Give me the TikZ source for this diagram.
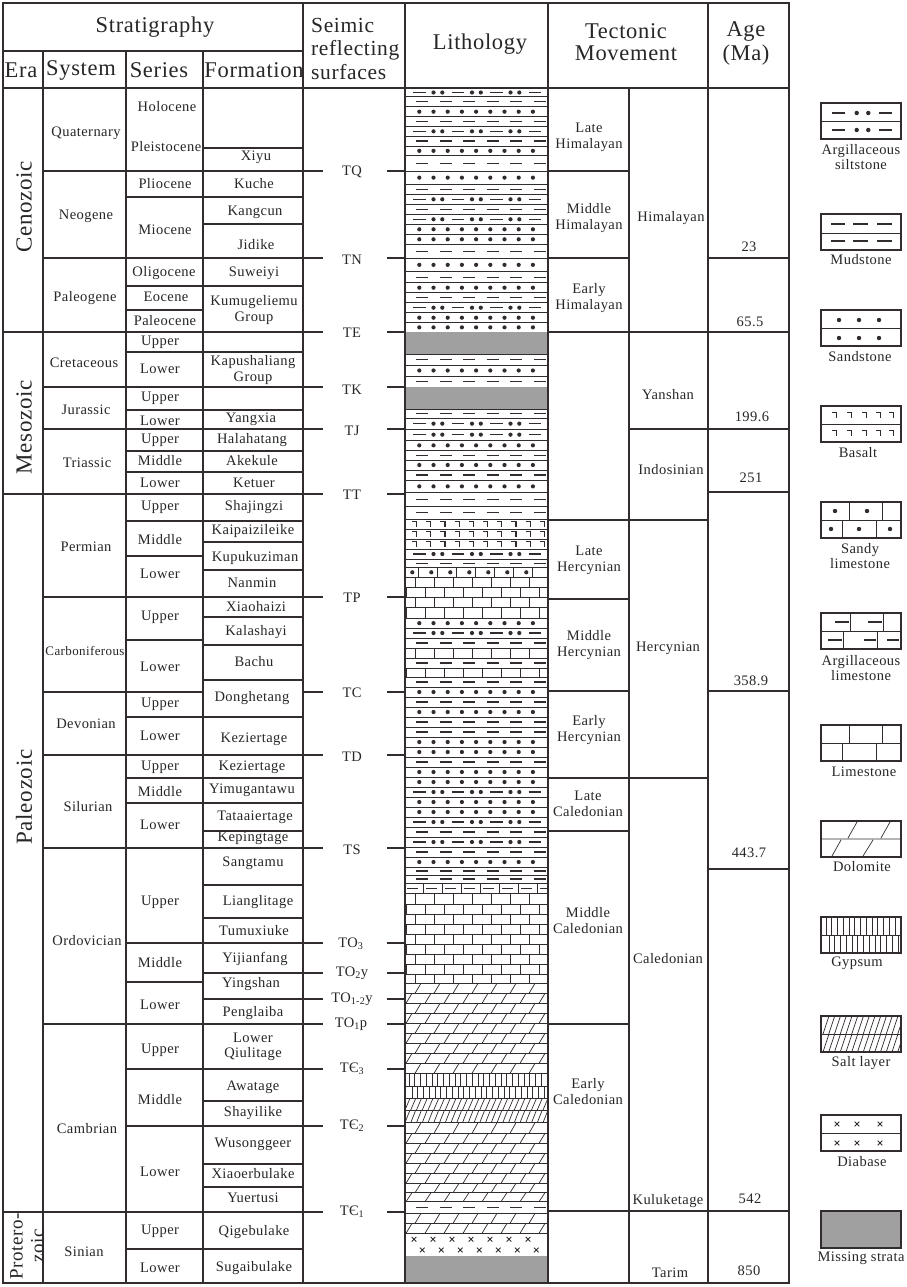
\documentclass[tikz,border=0pt]{standalone}
\usepackage{fontspec}
\setmainfont{Liberation Serif}[LetterSpace=3]
\definecolor{ink}{RGB}{50,44,44}
\definecolor{txt}{RGB}{40,38,38}
\definecolor{missc}{RGB}{160,160,160}
\tikzset{
  gline/.style={draw=ink,line width=1.6pt},
  lith/.style={draw=ink,line width=0.7pt},
  lmark/.style={draw=ink,line width=1.2pt},
  legbox/.style={draw=ink,line width=1.8pt},
  lbl/.style={inner sep=0pt,text=txt,font=\fontsize{14.5}{16}\selectfont,align=center},
  sml/.style={inner sep=0pt,text=txt,font=\fontsize{13}{15}\selectfont,align=center},
  hdr/.style={inner sep=0pt,text=txt,font=\fontsize{22.5}{23.5}\selectfont,align=center},
  eralbl/.style={inner sep=0pt,text=txt,font=\fontsize{23}{25}\selectfont,rotate=90,align=center},
}
% lithology row helpers
\newcommand\LiLine[1]{\draw[lith] (405,#1) -- (548,#1);}
\newcommand\LiMud[2]{\pgfmathsetmacro\lyc{(#1+#2)/2}%
  \foreach \k in {0,...,5}{\draw[lmark] ({416+23.5*\k},\lyc) -- ++(12,0);}\LiLine{#2}}
\newcommand\LiSand[2]{\pgfmathsetmacro\lyc{(#1+#2)/2}%
  \foreach \k in {0,...,8}{\fill[ink] ({419.3+14.2*\k},\lyc) circle[radius=2.1pt];}\LiLine{#2}}
\newcommand\LiSilt[2]{\pgfmathsetmacro\lyc{(#1+#2)/2}%
  \foreach \k in {0,...,3}{\draw[lmark] ({413+38.5*\k},\lyc) -- ++(12.5,0);}%
  \foreach \k in {0,...,2}{\fill[ink] ({433.5+38.5*\k},\lyc) circle[radius=2.1pt] ({442.3+38.5*\k},\lyc) circle[radius=2.1pt];}\LiLine{#2}}
\newcommand\LiBas[2]{\pgfmathsetmacro\lyc{(#1+#2)/2}%
  \foreach \k in {0,...,9}{\draw[lmark] ({412+14.2*\k},{\lyc-2.7}) -- ++(4.5,0) -- ++(0,5.4);}\LiLine{#2}}
\newcommand\LiSlime[2]{\pgfmathsetmacro\lyc{(#1+#2)/2}%
  \foreach \k in {0,...,6}{\draw[lith] ({418.3+19*\k},#1) -- ({418.3+19*\k},#2); \fill[ink] ({412.3+19*\k},\lyc) circle[radius=2.1pt];}\LiLine{#2}}
\newcommand\LiLime[3]{\foreach \k in {-1,...,6}{\draw[lith] ({#3+19*\k},#1) -- ({#3+19*\k},#2);}\LiLine{#2}}
\newcommand\LiArg[2]{\pgfmathsetmacro\lyc{(#1+#2)/2}%
  \foreach \k in {-1,...,6}{\draw[lith] ({423.3+19*\k},#1) -- ({423.3+19*\k},#2); \draw[lmark] ({426+19*\k},\lyc) -- ++(11,0);}\LiLine{#2}}
\newcommand\LiDol[3]{\foreach \k in {-1,...,6}{\draw[lith] ({#3+19*\k},#2) -- ({#3+6+19*\k},#1);}\LiLine{#2}}
\newcommand\LiGyp[3]{\foreach \k in {0,...,24}{\draw[lith] ({#3+5.75*\k},#1) -- ({#3+5.75*\k},#2);}\LiLine{#2}}
\newcommand\LiSalt[2]{\foreach \k in {0,...,24}{\draw[lith] ({405+5.75*\k},#2) -- ({410+5.75*\k},#1);}\LiLine{#2}}
\newcommand\LiMiss[2]{\fill[missc] (405,#1) rectangle (548,#2);\LiLine{#2}}
\newcommand\xmk[2]{\draw[lith,line width=0.9pt] ({#1-2.3},{#2-2.3}) -- ++(4.6,4.6) ({#1-2.3},{#2+2.3}) -- ++(4.6,-4.6);}
\begin{document}
\begin{tikzpicture}[x=1pt,y=-1pt]
\useasboundingbox (0,0) rectangle (906,1287);
\fill[white] (0,0) rectangle (906,1287);
% ---------------- lithology column ----------------
\begin{scope}
\clip (405,88) rectangle (548,1283);
\LiSilt{88.3}{96.7}\LiMud{96.7}{106.7}\LiSand{106.7}{116.7}\LiMud{116.7}{126.7}
\LiSilt{126.7}{136}\LiMud{136}{146}\LiSand{146}{155.7}\LiMud{155.7}{171}
\LiSand{171}{184.3}\LiMud{184.3}{194.3}\LiSilt{194.3}{204.3}\LiMud{204.3}{214.3}
\LiSilt{214.3}{224.3}\LiSand{224.3}{234.3}\LiSand{234.3}{244.3}\LiMud{244.3}{258}
\LiSand{258}{271.7}\LiMud{271.7}{282.7}\LiSand{282.7}{292.7}\LiMud{292.7}{302.7}
\LiSilt{302.7}{312.7}\LiSand{312.7}{322.7}\LiSand{322.7}{332}
\LiMiss{332}{354.3}\LiMud{354.3}{365}\LiSand{365}{376}\LiMud{376}{387}
\LiMiss{387}{409}\LiMud{409}{418}\LiSilt{418}{429.3}
\LiSilt{429.3}{440}\LiSand{440}{450.7}\LiMud{450.7}{460}\LiSand{460}{470}
\LiMud{470}{480}\LiSand{480}{492.7}
\LiMud{492.7}{506}\LiMud{506}{519.3}\LiBas{519.3}{529}\LiBas{529}{539}\LiBas{539}{549}
\LiSilt{549}{559}\LiMud{559}{567.3}\LiSlime{567.3}{577.3}
\LiLime{577.3}{587.3}{415}\LiLime{587.3}{597}{425.5}\LiLime{597}{607.3}{415}\LiLime{607.3}{618.3}{425.5}
\LiSand{618.3}{628}\LiSilt{628}{638}\LiMud{638}{648}\LiLime{648}{658}{415}
\LiMud{658}{668}\LiLime{668}{677}{425.5}
\LiMud{677}{687}\LiSand{687}{697}\LiMud{697}{707}\LiSand{707}{717}\LiMud{717}{727}
\LiMud{727}{737}\LiSand{737}{747}\LiSand{747}{757}\LiMud{757}{767}\LiSand{767}{777}
\LiSand{777}{787}\LiSilt{787}{797}\LiSand{797}{807}\LiSand{807}{817}\LiSilt{817}{827}
\LiMud{827}{837}\LiSilt{837}{847}\LiMud{847}{857}\LiSand{857}{867}\LiMud{867}{875}
\LiMud{875}{883}\LiArg{883}{893.3}
\LiLime{893.3}{904.3}{415}\LiLime{904.3}{914.3}{425.5}\LiLime{914.3}{924.3}{415}
\LiLime{924.3}{934.3}{425.5}\LiLime{934.3}{944.3}{415}\LiLime{944.3}{954.3}{425.5}
\LiLime{954.3}{964.3}{415}\LiLime{964.3}{974.3}{425.5}\LiLime{974.3}{983.3}{415}
\LiDol{983.3}{993.3}{415}\LiDol{993.3}{1003.3}{425}\LiDol{1003.3}{1013.3}{415}
\LiDol{1013.3}{1023.3}{425}\LiDol{1023.3}{1033.3}{415}\LiDol{1033.3}{1043.3}{425}
\LiDol{1043.3}{1053.3}{415}\LiDol{1053.3}{1063.3}{425}\LiDol{1063.3}{1073.3}{415}
\LiGyp{1073.3}{1086.7}{409}\LiGyp{1086.7}{1098.3}{411.9}
\LiSalt{1098.3}{1110}\LiSalt{1110}{1122.7}
\LiDol{1122.7}{1133.3}{415}\LiDol{1133.3}{1143.3}{425}\LiDol{1143.3}{1153.3}{415}
\LiDol{1153.3}{1163.3}{425}\LiDol{1163.3}{1173.3}{415}\LiDol{1173.3}{1183.3}{425}
\LiDol{1183.3}{1192.7}{415}\LiDol{1192.7}{1201.7}{425}
\LiMud{1201.7}{1213.3}
\LiDol{1213.3}{1223.3}{415}\LiDol{1223.3}{1233.3}{425}
\foreach \k in {0,...,6}{\xmk{414+19*\k}{1239.3}\xmk{422.3+19*\k}{1250}}
\LiLine{1256}
\LiMiss{1256}{1283}
\end{scope}
% ---------------- grid ----------------
\draw[gline] (3,3) rectangle (789,1283);
\draw[gline] (3,51) -- (303,51);
\draw[gline] (3,88) -- (789,88);
\foreach \xx in {43,126,203}{\draw[gline] (\xx,51) -- (\xx,1283);}
\foreach \xx in {303,405,548,708}{\draw[gline] (\xx,3) -- (\xx,1283);}
\draw[gline] (629,88) -- (629,1283);
\foreach \yy in {332,494,1212}{\draw[gline] (3,\yy) -- (43,\yy);}
\foreach \yy in {171,258,332,387,429,494,597,692,755,848,1024,1212}{\draw[gline] (43,\yy) -- (126,\yy);}
\foreach \yy in {171,197,258,286,310,332,352,387,410,429,451,472,494,521,556,597,640,692,717,755,778,803,848,943,982,1024,1069,1126,1212,1249}{\draw[gline] (126,\yy) -- (203,\yy);}
\foreach \yy in {148,171,197,224,258,286,332,352,387,410,429,451,472,494,521,542,570,597,617,645,680,717,755,778,803,831,848,885,918,943,973,999,1024,1069,1101,1126,1164,1187,1212,1249}{\draw[gline] (203,\yy) -- (303,\yy);}
\foreach \yy in {171,258,332,387,429,494,597,692,755,848,943,973,999,1024,1069,1126,1212}{\draw[gline] (303,\yy) -- (323,\yy) (387,\yy) -- (405,\yy);}
\foreach \yy in {171,258,332,520,599,691,778,831,1024,1211}{\draw[gline] (548,\yy) -- (629,\yy);}
\foreach \yy in {332,429,520,778,1211}{\draw[gline] (629,\yy) -- (708,\yy);}
\foreach \yy in {258,332,429,492,691,869,1211}{\draw[gline] (708,\yy) -- (789,\yy);}
% ---------------- headers ----------------
\node[hdr] (hStrat) at (155,27) {Stratigraphy};
\node[hdr] (hEra) at (21,70) {Era};
\node[hdr] (hSys) at (81,70) {System};
\node[hdr] (hSer) at (159,70) {Series};
\node[hdr] (hFor) at (254,70) {Formation};
\node[hdr,align=left,anchor=west,font=\fontsize{21.5}{23.5}\selectfont] (hSeis) at (311,48.5) {Seimic\\reflecting\\surfaces};
\node[hdr] (hLith) at (480,44) {Lithology};
\node[hdr,font=\fontsize{22.5}{22}\selectfont] (hTect) at (626,42) {Tectonic\\Movement};
\node[hdr,font=\fontsize{22.5}{24}\selectfont] (hAge) at (746,43) {Age\\(Ma)};
% ---------------- era ----------------
\node[eralbl] (eraC) at (24,207) {Cenozoic};
\node[eralbl] (eraM) at (24,427) {Mesozoic};
\node[eralbl] (eraP) at (24,797) {Paleozoic};
\node[eralbl,font=\fontsize{19}{21}\selectfont] (eraPr) at (27,1246) {Protero-\\zoic};
% ---------------- system ----------------
\node[lbl] (sy1) at (86,133) {Quaternary};
\node[lbl] (sy2) at (86,216) {Neogene};
\node[lbl] (sy3) at (85,298) {Paleogene};
\node[lbl] (sy4) at (84,363) {Cretaceous};
\node[lbl] (sy5) at (86,410) {Jurassic};
\node[lbl] (sy6) at (87,463) {Triassic};
\node[lbl] (sy7) at (86,547) {Permian};
\node[sml] (sy8) at (85,651) {Carboniferous};
\node[lbl] (sy9) at (86,724) {Devonian};
\node[lbl] (sy10) at (88,807) {Silurian};
\node[lbl] (sy11) at (87,941) {Ordovician};
\node[lbl] (sy12) at (87,1129) {Cambrian};
\node[lbl] (sy13) at (84,1252) {Sinian};
% ---------------- series ----------------
\node[lbl] (se1) at (167,107) {Holocene};
\node[lbl] (se2) at (166,147) {Pleistocene};
\node[lbl] (se3) at (165,184) {Pliocene};
\node[lbl] (se4) at (165,230) {Miocene};
\node[lbl] (se5) at (164,273) {Oligocene};
\node[lbl] (se6) at (166,297) {Eocene};
\node[lbl] (se7) at (165,321) {Paleocene};
\node[lbl] (se8) at (160,342) {Upper};
\node[lbl] (se9) at (160,369) {Lower};
\node[lbl] (se10) at (160,398) {Upper};
\node[lbl] (se11) at (160,421) {Lower};
\node[lbl] (se12) at (160,440) {Upper};
\node[lbl] (se13) at (160,461) {Middle};
\node[lbl] (se14) at (160,483) {Lower};
\node[lbl] (se15) at (160,507) {Upper};
\node[lbl] (se16) at (160,540) {Middle};
\node[lbl] (se17) at (160,574) {Lower};
\node[lbl] (se18) at (160,617) {Upper};
\node[lbl] (se19) at (160,667) {Lower};
\node[lbl] (se20) at (160,704) {Upper};
\node[lbl] (se21) at (160,736) {Lower};
\node[lbl] (se22) at (160,767) {Upper};
\node[lbl] (se23) at (160,792) {Middle};
\node[lbl] (se24) at (160,825) {Lower};
\node[lbl] (se25) at (160,902) {Upper};
\node[lbl] (se26) at (160,963) {Middle};
\node[lbl] (se27) at (160,1005) {Lower};
\node[lbl] (se28) at (160,1050) {Upper};
\node[lbl] (se29) at (160,1100) {Middle};
\node[lbl] (se30) at (160,1172) {Lower};
\node[lbl] (se31) at (160,1231) {Upper};
\node[lbl] (se32) at (160,1268) {Lower};
% ---------------- formation ----------------
\node[lbl] (fo1) at (256,157) {Xiyu};
\node[lbl] (fo2) at (254,184) {Kuche};
\node[lbl] (fo3) at (255,212) {Kangcun};
\node[lbl] (fo4) at (256,245) {Jidike};
\node[lbl] (fo5) at (254,273) {Suweiyi};
\node[lbl] (fo6) at (254,310) {Kumugeliemu\\Group};
\node[lbl] (fo7) at (253,370) {Kapushaliang\\Group};
\node[lbl] (fo8) at (251,419) {Yangxia};
\node[lbl] (fo9) at (252,440) {Halahatang};
\node[lbl] (fo10) at (252,461) {Akekule};
\node[lbl] (fo11) at (254,483) {Ketuer};
\node[lbl] (fo12) at (254,507) {Shajingzi};
\node[lbl] (fo13) at (253,531) {Kaipaizileike};
\node[lbl] (fo14) at (255,558) {Kupukuziman};
\node[lbl] (fo15) at (252,583) {Nanmin};
\node[lbl] (fo16) at (256,607) {Xiaohaizi};
\node[lbl] (fo17) at (256,632) {Kalashayi};
\node[lbl] (fo18) at (254,662) {Bachu};
\node[lbl] (fo19) at (252,698) {Donghetang};
\node[lbl] (fo20) at (254,739) {Keziertage};
\node[lbl] (fo21) at (252,767) {Keziertage};
\node[lbl] (fo22) at (252,790) {Yimugantawu};
\node[lbl] (fo23) at (255,817) {Tataaiertage};
\node[lbl] (fo24) at (253,838) {Kepingtage};
\node[lbl] (fo25) at (253,863) {Sangtamu};
\node[lbl] (fo26) at (258,902) {Lianglitage};
\node[lbl] (fo27) at (254,931) {Tumuxiuke};
\node[lbl] (fo28) at (255,959) {Yijianfang};
\node[lbl] (fo29) at (251,984) {Yingshan};
\node[lbl] (fo30) at (253,1013) {Penglaiba};
\node[lbl,font=\fontsize{14.5}{15}\selectfont] (fo31) at (253,1046.5) {Lower\\Qiulitage};
\node[lbl] (fo32) at (253,1087) {Awatage};
\node[lbl] (fo33) at (253,1113) {Shayilike};
\node[lbl] (fo34) at (253,1144) {Wusonggeer};
\node[lbl] (fo35) at (253,1174) {Xiaoerbulake};
\node[lbl] (fo36) at (253,1198) {Yuertusi};
\node[lbl] (fo37) at (254,1232) {Qigebulake};
\node[lbl] (fo38) at (254,1268) {Sugaibulake};
% ---------------- seismic ----------------
\node[lbl] (tq) at (352,172) {TQ};
\node[lbl] (tn) at (352,260) {TN};
\node[lbl] (te) at (352,333) {TE};
\node[lbl] (tk) at (352,390) {TK};
\node[lbl] (tj) at (352,431) {TJ};
\node[lbl] (tt) at (352,495) {TT};
\node[lbl] (tp) at (352,598) {TP};
\node[lbl] (tc) at (352,693) {TC};
\node[lbl] (td) at (352,757) {TD};
\node[lbl] (ts) at (352,850) {TS};
\node[lbl] (to3) at (351,944) {TO\textsubscript{3}};
\node[lbl] (to2) at (352,973) {TO\textsubscript{2}y};
\node[lbl] (to12) at (352,999) {TO\textsubscript{1-2}y};
\node[lbl] (to1) at (351,1024) {TO\textsubscript{1}p};
\node[lbl] (tc3) at (352,1069) {TЄ\textsubscript{3}};
\node[lbl] (tc2) at (352,1126) {TЄ\textsubscript{2}};
\node[lbl] (tc1) at (352,1212) {TЄ\textsubscript{1}};
% ---------------- tectonic ----------------
\node[lbl] (tm1) at (589,137.5) {Late\\Himalayan};
\node[lbl] (tm2) at (589,218.5) {Middle\\Himalayan};
\node[lbl] (tm3) at (589,298.5) {Early\\Himalayan};
\node[lbl] (tm4) at (589,560) {Late\\Hercynian};
\node[lbl] (tm5) at (589,645.5) {Middle\\Hercynian};
\node[lbl] (tm6) at (589,730.5) {Early\\Hercynian};
\node[lbl] (tm7) at (588,804) {Late\\Caledonian};
\node[lbl] (tm8) at (588,921) {Middle\\Caledonian};
\node[lbl] (tm9) at (588,1091.5) {Early\\Caledonian};
\node[lbl] (tr1) at (671,218) {Himalayan};
\node[lbl] (tr2) at (668,395) {Yanshan};
\node[lbl] (tr3) at (671,470) {Indosinian};
\node[lbl] (tr4) at (668,648) {Hercynian};
\node[lbl] (tr5) at (668,959) {Caledonian};
\node[lbl] (tr6) at (668,1201) {Kuluketage};
\node[lbl] (tr7) at (670,1273) {Tarim};
% ---------------- age ----------------
\node[lbl] (ag1) at (749,247) {23};
\node[lbl] (ag2) at (750,322) {65.5};
\node[lbl] (ag3) at (752,417) {199.6};
\node[lbl] (ag4) at (751,478) {251};
\node[lbl] (ag5) at (751,681) {358.9};
\node[lbl] (ag6) at (749,853) {443.7};
\node[lbl] (ag7) at (750,1199) {542};
\node[lbl] (ag8) at (749,1271) {850};
% ---------------- legend ----------------
% 1 argillaceous siltstone
\foreach \yy in {113,130}{\draw[lmark] (832,\yy) -- (845,\yy) (879,\yy) -- (892,\yy);
  \fill[ink] (856.7,\yy) circle[radius=2.2pt] (868.3,\yy) circle[radius=2.2pt];}
\draw[lith] (821,121) -- (901,121);
\draw[legbox] (821,103) rectangle (901,139);
\node[lbl,font=\fontsize{14.5}{15}\selectfont] (lg1) at (861,157.5) {Argillaceous\\siltstone};
% 2 mudstone
\foreach \yy in {224,241}{\draw[lmark] (831,\yy) -- (845,\yy) (853,\yy) -- (868,\yy) (877,\yy) -- (892,\yy);}
\draw[lith] (821,233) -- (901,233);
\draw[legbox] (821,214) rectangle (901,250);
\node[lbl] (lg2) at (861,260) {Mudstone};
% 3 sandstone
\foreach \yy in {320,338}{\fill[ink] (839,\yy) circle[radius=2.2pt] (859,\yy) circle[radius=2.2pt] (879,\yy) circle[radius=2.2pt];}
\draw[lith] (821,328) -- (901,328);
\draw[legbox] (821,310) rectangle (901,346);
\node[lbl] (lg3) at (860,357) {Sandstone};
% 4 basalt
\foreach \yy in {415,433}{\foreach \xx in {832,847,862,876,889}{\draw[lmark] (\xx,{\yy-2.7}) -- ++(4.5,0) -- ++(0,5.4);}}
\draw[lith] (821,424) -- (901,424);
\draw[legbox] (821,406) rectangle (901,442);
\node[lbl] (lg4) at (858,453) {Basalt};
% 5 sandy limestone
\draw[lith] (821,520) -- (901,520) (849,502) -- (849,520) (882,502) -- (882,520) (842,520) -- (842,538) (876,520) -- (876,538);
\fill[ink] (835,511) circle[radius=2.2pt] (867,511) circle[radius=2.2pt] (831,529) circle[radius=2.2pt] (859,529) circle[radius=2.2pt] (890,529) circle[radius=2.2pt];
\draw[legbox] (821,502) rectangle (901,538);
\node[lbl,font=\fontsize{14.5}{15}\selectfont] (lg5) at (860,556.5) {Sandy\\limestone};
% 6 argillaceous limestone
\draw[lith] (821,631) -- (901,631) (850,613) -- (850,631) (883,613) -- (883,631) (843,631) -- (843,649) (877,631) -- (877,649);
\draw[lmark] (835,622) -- (849,622) (868,622) -- (882,622) (828,640) -- (842,640) (864,640) -- (876,640) (887,640) -- (899,640);
\draw[legbox] (821,613) rectangle (901,649);
\node[lbl,font=\fontsize{14.5}{15}\selectfont] (lg6) at (861,668.5) {Argillaceous\\limestone};
% 7 limestone
\draw[lith] (821,743) -- (901,743) (849,725) -- (849,743) (882,725) -- (882,743) (842,743) -- (842,761) (876,743) -- (876,761);
\draw[legbox] (821,725) rectangle (901,761);
\node[lbl] (lg7) at (864,772) {Limestone};
% 8 dolomite
\draw[lith] (821,839) -- (901,839) (848,838) -- (857,822) (881,838) -- (890,822) (832,856) -- (841,840) (863,856) -- (873,840);
\draw[legbox] (821,821) rectangle (901,857);
\node[lbl] (lg8) at (862,867) {Dolomite};
% 9 gypsum
\foreach \k in {0,...,12}{\draw[lith] ({826+5.75*\k},917) -- ({826+5.75*\k},935) ({829+5.75*\k},935) -- ({829+5.75*\k},953);}
\draw[lith] (821,935) -- (901,935);
\draw[legbox] (821,917) rectangle (901,953);
\node[lbl] (lg9) at (857,963) {Gypsum};
% 10 salt layer
\begin{scope}
\clip (821,1016) rectangle (901,1052);
\foreach \k in {0,...,14}{\draw[lith] ({823+5.75*\k},1034) -- ({829+5.75*\k},1016) ({823+5.75*\k},1052) -- ({829+5.75*\k},1034);}
\end{scope}
\draw[lith] (821,1034) -- (901,1034);
\draw[legbox] (821,1016) rectangle (901,1052);
\node[lbl] (lg10) at (861,1063) {Salt layer};
% 11 diabase
\foreach \yy in {1124,1143}{\xmk{837}{\yy}\xmk{857}{\yy}\xmk{880}{\yy}}
\draw[lith] (821,1133) -- (901,1133);
\draw[legbox] (821,1115) rectangle (901,1151);
\node[lbl] (lg11) at (862,1162) {Diabase};
% 12 missing strata
\fill[missc] (821,1211) rectangle (901,1248);
\draw[legbox] (821,1211) rectangle (901,1248);
\node[lbl] (lg12) at (861,1258) {Missing strata};
\end{tikzpicture}
\end{document}
